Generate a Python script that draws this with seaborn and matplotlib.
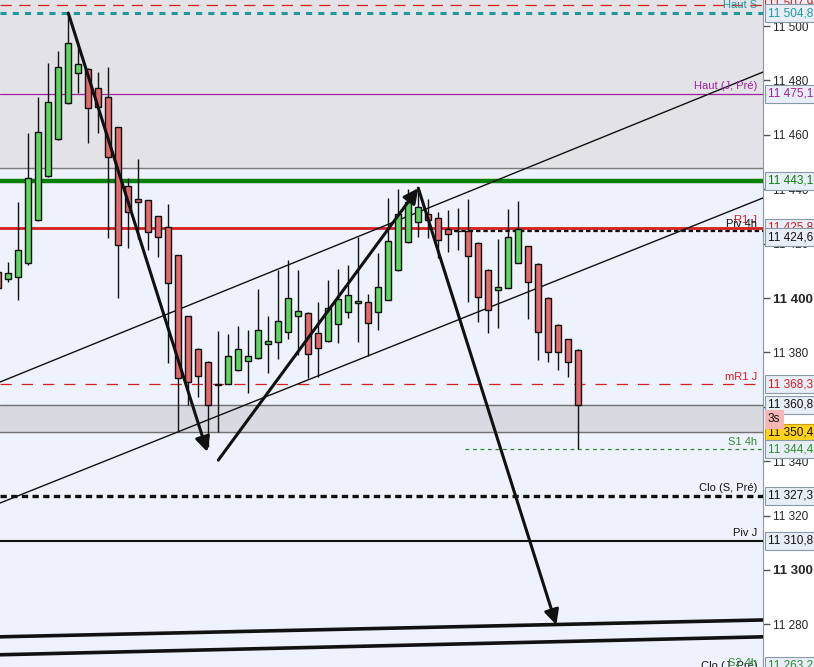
import numpy as np
import pandas as pd
import matplotlib
matplotlib.use("Agg")
import matplotlib.pyplot as plt
import seaborn as sns

# candle data (index, open, high, low, close)
idx = list(range(-1, 58))
opens = [11409.6, 11407.0, 11407.7, 11412.9, 11428.7, 11444.8, 11458.4, 11471.7, 11482.7, 11484.2,
         11477.2, 11473.9, 11462.9, 11441.2, 11436.4, 11436.0, 11430.1, 11426.1, 11415.8, 11393.4,
         11381.3, 11376.5, 11368.0, 11368.4, 11373.5, 11376.8, 11377.9, 11383.1, 11383.8, 11387.5,
         11393.4, 11394.5, 11387.1, 11384.2, 11390.4, 11394.9, 11398.2, 11398.5, 11394.9, 11399.3,
         11410.3, 11420.6, 11427.9, 11430.9, 11429.4, 11425.4, 11424.6, 11424.6, 11420.2, 11410.3,
         11402.9, 11403.7, 11412.9, 11419.1, 11412.5, 11400.0, 11390.1, 11384.9, 11380.9]
highs = [11412.1, 11413.2, 11435.3, 11460.7, 11473.9, 11486.4, 11490.8, 11504.8, 11493.7, 11484.5,
         11483.1, 11484.9, 11463.0, 11444.1, 11451.1, 11436.2, 11430.3, 11434.6, 11416.0, 11393.5,
         11381.5, 11376.7, 11387.9, 11386.8, 11389.7, 11388.2, 11403.3, 11393.4, 11410.3, 11414.0,
         11410.3, 11394.7, 11398.5, 11406.6, 11410.7, 11412.1, 11422.4, 11401.5, 11416.5, 11436.8,
         11440.1, 11440.1, 11439.0, 11436.4, 11431.6, 11432.3, 11433.1, 11436.4, 11420.5, 11410.5,
         11421.7, 11432.7, 11435.7, 11419.3, 11412.7, 11400.2, 11390.3, 11385.1, 11381.1]
lows = [11401.1, 11405.9, 11399.3, 11412.1, 11428.5, 11444.5, 11458.2, 11471.5, 11475.4, 11457.0,
        11460.7, 11422.1, 11400.0, 11418.4, 11421.7, 11417.6, 11415.1, 11376.1, 11350.7, 11360.7,
        11363.6, 11345.2, 11350.7, 11368.2, 11373.3, 11365.1, 11377.7, 11372.4, 11377.6, 11384.9,
        11379.0, 11370.6, 11371.0, 11384.0, 11383.5, 11392.6, 11383.8, 11378.7, 11388.2, 11399.1,
        11410.1, 11420.4, 11422.4, 11422.1, 11414.7, 11416.9, 11417.6, 11398.5, 11391.2, 11387.1,
        11389.0, 11403.5, 11412.7, 11392.3, 11377.2, 11376.5, 11373.5, 11371.0, 11344.4]
closes = [11403.7, 11409.2, 11417.6, 11444.1, 11461.0, 11472.1, 11484.9, 11493.7, 11486.0, 11469.8,
          11470.2, 11451.8, 11419.5, 11431.6, 11435.3, 11424.3, 11422.4, 11405.5, 11370.6, 11369.1,
          11371.3, 11360.7, 11368.3, 11378.7, 11381.3, 11378.7, 11388.2, 11384.2, 11391.5, 11400.0,
          11395.2, 11379.4, 11381.6, 11396.3, 11399.6, 11401.1, 11398.9, 11390.8, 11404.0, 11421.0,
          11430.9, 11435.3, 11433.5, 11428.7, 11421.3, 11423.5, 11424.5, 11415.4, 11400.4, 11395.6,
          11404.0, 11422.4, 11425.4, 11405.9, 11387.5, 11380.1, 11380.1, 11376.5, 11360.7]

# levels shown on the right
level_names = ["Haut (J, Pré)", "R1 J", "Piv 4h", "mR1 J", "S1 4h", "Clo (S, Pré)", "Piv J"]
level_values = [11475.1, 11425.8, 11424.6, 11368.3, 11344.4, 11327.3, 11310.8]
level_colors = ["#A020A0", "#D81E1E", "#111111", "#D81E1E", "#2E8B2E", "#111111", "#111111"]

# trend lines (start index, start price, end index, end price)
channel_low = [-0.83, 11324.6, 75.47, 11436.8]
channel_high = [-0.83, 11369.1, 75.47, 11483.1]
bottom_line1 = [-0.83, 11275.4, 75.47, 11281.6]
bottom_line2 = [-0.83, 11268.8, 75.47, 11275.4]

# arrows (from index, from price, to index, to price)
arrows = [[6.0, 11504.8, 19.9, 11343.4],
          [21.0, 11340.4, 41.0, 11440.4],
          [41.0, 11440.4, 54.8, 11279.8]]

tick_values = list(range(11280, 11520, 20))

df = pd.DataFrame({"i": idx, "o": opens, "h": highs, "l": lows, "c": closes})
df["up"] = df["c"] >= df["o"]

sns.set_style("white")
plt.rcParams["font.family"] = ["Liberation Sans", "DejaVu Sans"]

fig = plt.figure(figsize=(8.14, 6.67), dpi=100)
fig.patch.set_facecolor("white")
ax = fig.add_axes([0, 0, 763 / 814, 1])
ax.set_facecolor("#EEF2FC")
ax.set_xlim(-0.83, 75.47)
ax.set_ylim(11264.3, 11509.6)

# shaded zones
ax.axhspan(11447.8, 11520, color="#E3E3E7", zorder=0)
ax.axhline(11447.8, color="#7A7A7A", lw=1, zorder=1)
ax.axhspan(11350.6, 11360.8, color="#D8DAE1", zorder=0)
ax.axhline(11360.8, color="#707070", lw=1, zorder=1)
ax.axhline(11350.6, color="#707070", lw=1, zorder=1)

# horizontal levels
ax.axhline(11507.8, color="#D81E1E", lw=0.9, dashes=(9, 6), zorder=2)
ax.axhline(11504.8, color="#1E9A9A", lw=2.2, dashes=(2, 2), zorder=2)
ax.axhline(11475.1, color="#A020A0", lw=0.9, zorder=2)
ax.axhline(11443.1, color="#0A7F0A", lw=3.2, zorder=2)
ax.axhline(11425.8, color="#D81E1E", lw=2.0, zorder=2)
ax.hlines(11424.6, 44.6, 75.47, color="#111111", lw=1.6, linestyles=(0, (2, 1.3)), zorder=2)
ax.axhline(11368.3, color="#D81E1E", lw=0.9, dashes=(9, 8), zorder=2)
ax.hlines(11344.4, 45.7, 75.47, color="#2E8B2E", lw=0.9, linestyles=(0, (3, 3)), zorder=2)
ax.axhline(11327.3, color="#111111", lw=2.4, dashes=(1.9, 1.3), zorder=2)
ax.axhline(11310.8, color="#111111", lw=1.5, zorder=2)

# trend lines
for ln, w in [(channel_low, 1.0), (channel_high, 1.0), (bottom_line1, 2.6), (bottom_line2, 2.6)]:
    seg = pd.DataFrame({"x": [ln[0], ln[2]], "y": [ln[1], ln[3]]})
    sns.lineplot(data=seg, x="x", y="y", color="#111111", lw=w, ax=ax, zorder=3)

# candles
ax.vlines(df["i"], df["l"], df["h"], color="#111111", lw=1.0, zorder=4)
body_col = np.where(df["up"], "#5CD65C", "#E26A6A")
ax.bar(df["i"], df["c"] - df["o"], bottom=df["o"], width=0.6, color=body_col,
       edgecolor="#111111", linewidth=1.0, zorder=5)

# arrows
for a in arrows:
    ax.annotate("", xy=(a[2], a[3]), xytext=(a[0], a[1]),
                arrowprops=dict(arrowstyle="-|>", color="#111111", lw=2.2,
                                mutation_scale=22, shrinkA=0, shrinkB=0), zorder=6)

# level labels above their lines
for name, val, col in zip(level_names, level_values, level_colors):
    ax.text(74.9, val + 0.9, name, color=col, fontsize=8, ha="right", va="bottom", zorder=7)
ax.text(74.9, 11505.9, "Haut S", color="#1E9A9A", fontsize=8, ha="right", va="bottom", zorder=7)
ax.text(74.9, 11262.8, "Clo (J, Pré)", color="#111111", fontsize=8, ha="right", va="bottom", zorder=7)
ax.text(74.9, 11264.0, "S2 4h", color="#2E8B2E", fontsize=8, ha="right", va="bottom", zorder=7)

# right axis
for s in ["top", "left", "bottom"]:
    ax.spines[s].set_visible(False)
ax.spines["right"].set_color("#8A96A3")
ax.set_xticks([])
ax.yaxis.tick_right()
ax.set_yticks(tick_values)
ax.set_yticklabels([f"{v:,}".replace(",", " ") for v in tick_values])
ax.tick_params(axis="y", length=5, width=1, color="#555555", labelsize=8.5, pad=2)
for lab, v in zip(ax.get_yticklabels(), tick_values):
    if v in (11300, 11400):
        lab.set_fontweight("bold")
        lab.set_fontsize(9.5)
ax.set_ylabel("")

# value boxes on the axis
boxes = [(11508.4, "11 507,9", "#D81E1E", "#E8EEF8", "#D81E1E"),
         (11504.8, "11 504,8", "#1E9A9A", "#E8EEF8", "#8899AA"),
         (11475.1, "11 475,1", "#A020A0", "#E8EEF8", "#8899AA"),
         (11443.1, "11 443,1", "#0A7F0A", "#E8EEF8", "#8899AA"),
         (11425.8, "11 425,8", "#D81E1E", "#E8EEF8", "#8899AA"),
         (11424.6 - 2.2, "11 424,6", "#111111", "#E8EEF8", "#8899AA"),
         (11368.3, "11 368,3", "#D81E1E", "#E8EEF8", "#8899AA"),
         (11360.8, "11 360,8", "#111111", "#E8EEF8", "#8899AA"),
         (11350.4, "11 350,4", "#111111", "#FFD21F", "#C9A200"),
         (11344.4, "11 344,4", "#2E8B2E", "#E8EEF8", "#8899AA"),
         (11327.3, "11 327,3", "#111111", "#E8EEF8", "#8899AA"),
         (11310.8, "11 310,8", "#111111", "#E8EEF8", "#8899AA"),
         (11263.2 + 1.5, "11 263,2", "#2E8B2E", "#E8EEF8", "#8899AA")]
tr = ax.get_yaxis_transform()
for val, txt, tc, fc, ec in boxes:
    ax.annotate(txt, xy=(1, val), xycoords=tr, xytext=(3.5, 0), textcoords="offset points",
                ha="left", va="center", fontsize=8.5, color=tc, zorder=8, annotation_clip=False,
                bbox=dict(boxstyle="square,pad=0.25", fc=fc, ec=ec, lw=0.8))
ax.annotate("3s", xy=(1, 11355.6), xycoords=tr, xytext=(3.5, 0), textcoords="offset points",
            ha="left", va="center", fontsize=8.5, color="#111111", zorder=8, annotation_clip=False,
            bbox=dict(boxstyle="square,pad=0.25", fc="#F4B6B6", ec="#F4B6B6", lw=0.8))

fig.savefig("out.png", dpi=100)
